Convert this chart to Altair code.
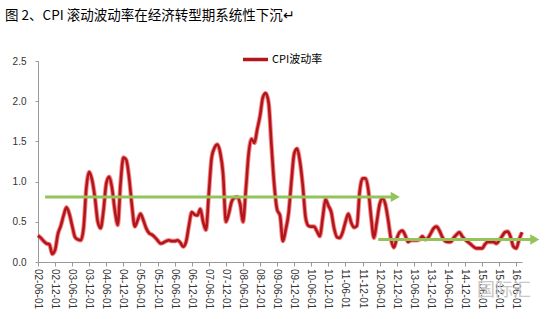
import altair as alt
import pandas as pd

# Monthly CPI rolling volatility, 2002-06 .. 2016-08
cpi_vol = [
    0.33, 0.30, 0.26, 0.23, 0.22, 0.10, 0.15, 0.35, 0.45, 0.58,
    0.68, 0.60, 0.45, 0.31, 0.28, 0.27, 0.42, 0.93, 1.12, 1.02,
    0.80, 0.50, 0.42, 0.64, 0.98, 1.06, 0.92, 0.64, 0.46, 0.98,
    1.30, 1.27, 1.05, 0.70, 0.44, 0.52, 0.60, 0.52, 0.42, 0.36,
    0.34, 0.31, 0.27, 0.23, 0.24, 0.26, 0.27, 0.26, 0.26, 0.27,
    0.24, 0.19, 0.25, 0.45, 0.62, 0.59, 0.58, 0.66, 0.50, 0.40,
    0.85, 1.30, 1.42, 1.46, 1.36, 1.10, 0.50, 0.60, 0.75, 0.80,
    0.81, 0.72, 0.50, 0.90, 1.35, 1.53, 1.48, 1.65, 1.82, 2.05,
    2.10, 1.98, 1.45, 0.95, 0.65, 0.58, 0.26, 0.40, 0.60, 1.00,
    1.35, 1.41, 1.25, 0.95, 0.55, 0.45, 0.44, 0.44, 0.38, 0.32,
    0.55, 0.78, 0.70, 0.62, 0.42, 0.31, 0.30, 0.37, 0.50, 0.60,
    0.49, 0.43, 0.45, 0.88, 1.04, 1.04, 0.90, 0.56, 0.30, 0.50,
    0.72, 0.79, 0.72, 0.52, 0.28, 0.18, 0.29, 0.37, 0.39, 0.33,
    0.25, 0.27, 0.27, 0.27, 0.28, 0.32, 0.28, 0.30, 0.36, 0.42,
    0.44, 0.39, 0.31, 0.26, 0.25, 0.25, 0.30, 0.34, 0.37, 0.32,
    0.28, 0.25, 0.22, 0.19, 0.17, 0.17, 0.17, 0.22, 0.25, 0.25,
    0.25, 0.23, 0.27, 0.32, 0.37, 0.38, 0.31, 0.19, 0.17, 0.28,
    0.37,
]
series_name = "CPI波动率"
first_month = "2002-06-01"

# Tick labels every six months
tick_labels = [
    "02-06-01", "02-12-01", "03-06-01", "03-12-01", "04-06-01", "04-12-01",
    "05-06-01", "05-12-01", "06-06-01", "06-12-01", "07-06-01", "07-12-01",
    "08-06-01", "08-12-01", "09-06-01", "09-12-01", "10-06-01", "10-12-01",
    "11-06-01", "11-12-01", "12-06-01", "12-12-01", "13-06-01", "13-12-01",
    "14-06-01", "14-12-01", "15-06-01", "15-12-01", "16-06-01",
]

# Green trend arrows (in months since 2002-06)
arrow_start = [2.5, 119.5]
arrow_end = [125.5, 174.5]
arrow_level = [0.81, 0.28]

title_text = "图 2、CPI 滚动波动率在经济转型期系统性下沉↵"
watermark = "国际汇"

dates = pd.date_range(first_month, periods=len(cpi_vol), freq="MS")
df = pd.DataFrame({"month": range(len(cpi_vol)), "date": dates.strftime("%Y-%m-%d"),
                   "value": cpi_vol, "series": series_name})
arrows = pd.DataFrame({"start": arrow_start, "end": arrow_end, "level": arrow_level})
tick_months = [6 * i for i in range(len(tick_labels))]
ticks = pd.DataFrame({"month": tick_months, "label": tick_labels})

xscale = alt.Scale(domain=[0, len(cpi_vol) - 1], nice=False, zero=False)
yscale = alt.Scale(domain=[0, 2.5])

xaxis = alt.Axis(values=tick_months, labels=False, tickSize=4,
                 domainColor="#999", tickColor="#999", grid=False, title=None)
yaxis = alt.Axis(values=[0, 0.5, 1.0, 1.5, 2.0, 2.5], format=".1f", labelFontSize=10,
                 labelColor="#333", labelFont="Liberation Sans", tickSize=3,
                 labelPadding=9, domainColor="#999", tickColor="#999", grid=False,
                 title=None)

X = alt.X("month:Q", scale=xscale, axis=xaxis)
Y = alt.Y("value:Q", scale=yscale, axis=yaxis)

base = alt.Chart(df)
halo = base.mark_line(color="#ee2222", strokeWidth=4.5, opacity=0.55,
                      interpolate="monotone").encode(x=X, y=Y)
core = base.mark_line(strokeWidth=2.6, interpolate="monotone").encode(
    x=X, y=Y,
    color=alt.Color("series:N",
                    scale=alt.Scale(domain=[series_name], range=["#b0161c"]),
                    legend=alt.Legend(orient="none", legendX=203, legendY=-16, title=None,
                                      symbolType="stroke", symbolSize=625,
                                      symbolStrokeWidth=3.5, labelFontSize=11,
                                      labelFont="Noto Sans CJK SC", labelColor="#000",
                                      labelOffset=2)),
)
tick_text = alt.Chart(ticks).mark_text(angle=90, align="left", baseline="middle",
                                       fontSize=10, color="#333", font="Liberation Sans").encode(
    x=alt.X("month:Q", scale=xscale, axis=xaxis), y=alt.value(208), text="label:N")

green = "#92c45a"
arrow_line = alt.Chart(arrows).mark_rule(color=green, strokeWidth=3).encode(
    x=alt.X("start:Q", scale=xscale, axis=xaxis), x2="end:Q",
    y=alt.Y("level:Q", scale=yscale, axis=yaxis))
arrow_head = alt.Chart(arrows).mark_point(shape="triangle-right", filled=True, color=green,
                                          opacity=1, size=110).encode(
    x=alt.X("end:Q", scale=xscale, axis=xaxis), y=alt.Y("level:Q", scale=yscale, axis=yaxis))

wm = alt.Chart(pd.DataFrame({"t": [watermark]})).mark_text(
    fontSize=18, color="#c8c8c8", font="Noto Sans CJK SC", align="left", baseline="middle"
).encode(text="t:N", x=alt.value(439), y=alt.value(230))

chart = alt.layer(halo, core, tick_text, arrow_line, arrow_head, wm).properties(
    width=484, height=201,
    background="white",
    title=alt.TitleParams(text=title_text, anchor="start", frame="group", dx=-33,
                          offset=23, fontSize=13.5, font="Noto Sans CJK SC",
                          fontWeight="normal", color="#000"),
    autosize=alt.AutoSizeParams(type="none"),
    padding={"left": 38, "top": 61, "right": 37, "bottom": 57},
).configure_view(stroke=None)

chart.save("out.html", embed_options={"renderer": "svg", "actions": False})
